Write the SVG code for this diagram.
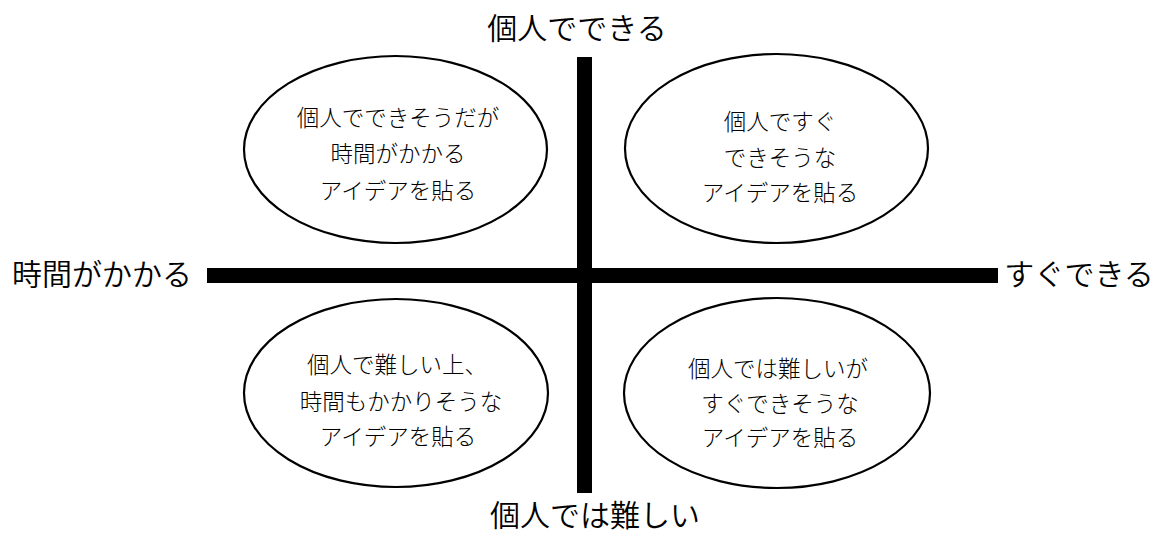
<svg xmlns="http://www.w3.org/2000/svg" width="1156" height="533" viewBox="0 0 1156 533">
<style>
.bar{fill:#000}
.ell{fill:#fff;stroke:#000;stroke-width:2.2}
.lab{font-family:"Noto Sans CJK JP","Noto Sans",sans-serif;font-weight:350;font-size:30px;fill:#000;text-anchor:middle;dominant-baseline:central}
.in{font-family:"Noto Sans CJK JP","Noto Sans",sans-serif;font-weight:300;font-size:22.5px;fill:#000;text-anchor:middle;dominant-baseline:central}
</style>
<rect width="1156" height="533" fill="#fff"/>
<g id="connectors">
<rect class="bar" x="577" y="57" width="15" height="436"/>
<rect class="bar" x="207" y="268" width="791" height="15"/>
</g>
<g id="label-top"><text class="lab" x="577" y="26">個人でできる</text></g>
<g id="label-left"><text class="lab" x="102" y="272">時間がかかる</text></g>
<g id="label-right"><text class="lab" x="1079" y="272">すぐできる</text></g>
<g id="label-bottom"><text class="lab" x="595" y="513">個人では難しい</text></g>
<g id="node-tl">
<ellipse class="ell" cx="395.5" cy="149.5" rx="151.5" ry="93.5"/>
<text class="in" x="398" y="116">個人でできそうだが</text>
<text class="in" x="398" y="152">時間がかかる</text>
<text class="in" x="398" y="189">アイデアを貼る</text>
</g>
<g id="node-tr">
<ellipse class="ell" cx="776.5" cy="148.5" rx="151.5" ry="94.5"/>
<text class="in" x="780" y="120">個人ですぐ</text>
<text class="in" x="780" y="156">できそうな</text>
<text class="in" x="780" y="191">アイデアを貼る</text>
</g>
<g id="node-bl">
<ellipse class="ell" cx="396" cy="393" rx="152" ry="94"/>
<text class="in" x="397" y="363">個人で難しい上、</text>
<text class="in" x="401" y="400">時間もかかりそうな</text>
<text class="in" x="398" y="435">アイデアを貼る</text>
</g>
<g id="node-br">
<ellipse class="ell" cx="777" cy="393" rx="153" ry="95"/>
<text class="in" x="778" y="367">個人では難しいが</text>
<text class="in" x="780" y="402">すぐできそうな</text>
<text class="in" x="780" y="436">アイデアを貼る</text>
</g>
</svg>
